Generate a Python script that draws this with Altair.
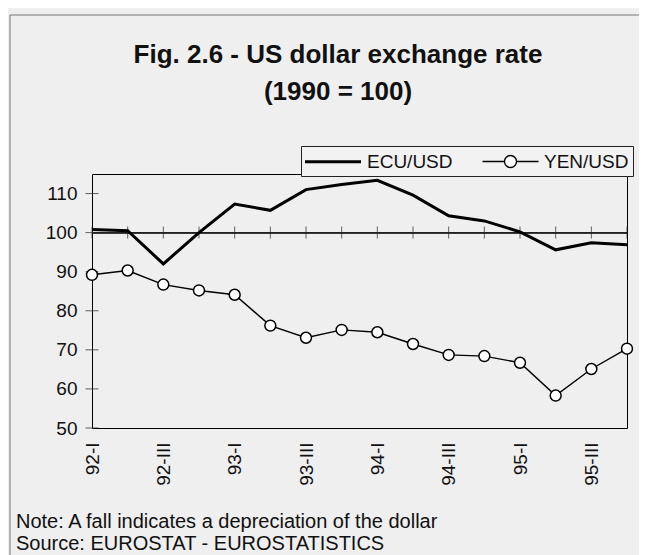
import altair as alt
import pandas as pd

quarters = ["92-I", "92-II", "92-III", "92-IV", "93-I", "93-II", "93-III", "93-IV",
            "94-I", "94-II", "94-III", "94-IV", "95-I", "95-II", "95-III", "95-IV"]
ecu = [100.8, 100.5, 92.0, 100.0, 107.3, 105.7, 111.0, 112.3,
       113.4, 109.6, 104.3, 103.0, 100.2, 95.6, 97.4, 96.9]
yen = [89.2, 90.3, 86.7, 85.2, 84.1, 76.2, 73.1, 75.1,
       74.5, 71.5, 68.7, 68.4, 66.7, 58.3, 65.1, 70.3]
series_names = ["ECU/USD", "YEN/USD"]
y_ticks = [50, 60, 70, 80, 90, 100, 110]
x_labels = quarters[::2]
title_lines = ["Fig. 2.6 - US dollar exchange rate", "(1990 = 100)"]
note_lines = ["Note: A fall indicates a depreciation of the dollar",
              "Source: EUROSTAT - EUROSTATISTICS"]

df = pd.DataFrame({
    "quarter": quarters * 2,
    "series": [series_names[0]] * len(quarters) + [series_names[1]] * len(quarters),
    "value": ecu + yen,
})
ecu_df = df[df.series == series_names[0]]
yen_df = df[df.series == series_names[1]]

FONT = "Liberation Sans"

xscale = alt.Scale(domain=quarters, type="point", padding=0)
yscale = alt.Scale(domain=[50, 115], nice=False, zero=False)

X = alt.X("quarter:N", scale=xscale, title=None,
          axis=alt.Axis(values=x_labels, labelAngle=-90, ticks=False, domain=False,
                        labelPadding=14, labelFontSize=19, labelColor="#111",
                        labelFont=FONT, grid=False))
Y = alt.Y("value:Q", scale=yscale, title=None,
          axis=alt.Axis(values=y_ticks, ticks=False, domain=False, grid=False,
                        labelPadding=15, labelFontSize=19, labelColor="#111",
                        labelFont=FONT))

# legend symbols: a plain line, and a line broken by an open circle
ecu_path = "M-1.15,0H4.45"
yen_path = "M-1.15,0H1.05M2.25,0H4.45M1.05,0A0.6,0.6 0 1,1 2.25,0A0.6,0.6 0 1,1 1.05,0"

frame = alt.Chart(pd.DataFrame({"k": [0]})).mark_rect(
    fill=None, stroke="#777", strokeWidth=1
).encode(x=alt.value(-82), x2=alt.value(549), y=alt.value(-159), y2=alt.value(420))

rule100 = alt.Chart(ecu_df).mark_rule(color="#222", strokeWidth=1).encode(
    y=alt.datum(100, scale=yscale))

xticks = alt.Chart(ecu_df).mark_tick(orient="vertical", size=12, thickness=1,
                                     color="#222").encode(
    x=alt.X("quarter:N", scale=xscale, title=None), y=alt.datum(100))

yticks = alt.Chart(pd.DataFrame({"value": y_ticks})).mark_tick(
    orient="horizontal", size=13, thickness=1, color="#222").encode(
    x=alt.datum(quarters[0]), y=alt.Y("value:Q", scale=yscale, title=None))

ecu_line = alt.Chart(ecu_df).mark_line(color="black", strokeWidth=3).encode(x=X, y=Y)
yen_line = alt.Chart(yen_df).mark_line(color="black", strokeWidth=1.4).encode(x=X, y=Y)
yen_pts = alt.Chart(yen_df).mark_point(filled=True, fill="white", stroke="black",
                                       strokeWidth=1.5, size=120, opacity=1).encode(x=X, y=Y)

legend = alt.Legend(orient="none", legendX=209, legendY=-28, direction="horizontal",
                    title=None, symbolSize=400, labelFontSize=19, labelFont=FONT,
                    labelColor="#111", labelOffset=39, columnPadding=26, padding=4,
                    strokeColor="#222", fillColor="#f2f2f2",
                    symbolStrokeColor="black", symbolFillColor="white")
legend_layer = alt.Chart(df).transform_filter("false").mark_point(
    filled=False, fill="white", stroke="black", opacity=1).encode(
    color=alt.Color("series:N", scale=alt.Scale(domain=series_names,
                                                range=["black", "black"]),
                    legend=legend),
    shape=alt.Shape("series:N", scale=alt.Scale(domain=series_names,
                                                range=[ecu_path, yen_path]),
                    legend=legend),
    strokeWidth=alt.StrokeWidth("series:N", scale=alt.Scale(domain=series_names,
                                                            range=[3, 1.4]),
                                legend=legend),
)

title1 = alt.Chart(pd.DataFrame({"t": [title_lines[0]]})).mark_text(
    font=FONT, fontSize=26, fontWeight="bold", color="#111", align="center",
    baseline="alphabetic").encode(text="t:N", x=alt.value(246), y=alt.value(-111))
title2 = alt.Chart(pd.DataFrame({"t": [title_lines[1]]})).mark_text(
    font=FONT, fontSize=26, fontWeight="bold", color="#111", align="center",
    baseline="alphabetic").encode(text="t:N", x=alt.value(246), y=alt.value(-74))
note1 = alt.Chart(pd.DataFrame({"t": [note_lines[0]]})).mark_text(
    font=FONT, fontSize=20, color="#111", align="left",
    baseline="alphabetic").encode(text="t:N", x=alt.value(-76), y=alt.value(354))
note2 = alt.Chart(pd.DataFrame({"t": [note_lines[1]]})).mark_text(
    font=FONT, fontSize=20, color="#111", align="left",
    baseline="alphabetic").encode(text="t:N", x=alt.value(-76), y=alt.value(376))

chart = alt.layer(
    frame, rule100, xticks, yticks, ecu_line, yen_line, yen_pts, legend_layer,
    title1, title2, note1, note2
).properties(
    width=535, height=254,
    autosize=alt.AutoSizeParams(type="none"),
    padding={"left": 84, "top": 166, "right": 12, "bottom": 128},
    background="#efefef",
).configure_view(stroke="black", strokeWidth=1)

chart.save("out.html", embed_options={"renderer": "svg", "actions": False})
